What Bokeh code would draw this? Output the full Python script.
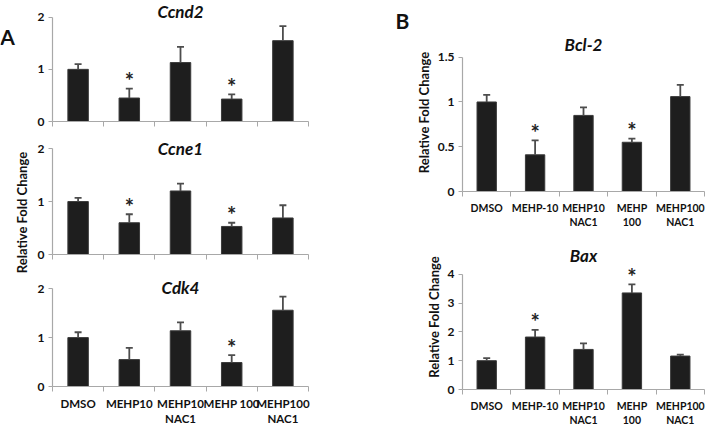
import math
from bokeh.plotting import figure
from bokeh.models import (Range1d, FixedTicker, Whisker, TeeHead, ColumnDataSource,
                          Label, CustomJSTickFormatter)
from bokeh.layouts import row, column
from bokeh.embed import file_html
from bokeh.resources import INLINE
from bokeh.core.properties import value

# ---------------- data ----------------
cats_a = ["DMSO", "MEHP10", "MEHP10\nNAC1", "MEHP 100", "MEHP100\nNAC1"]
cats_b = ["DMSO", "MEHP-10", "MEHP10\nNAC1", "MEHP\n100", "MEHP100\nNAC1"]

ccnd2_mean = [1.00, 0.45, 1.13, 0.43, 1.55]
ccnd2_err = [0.10, 0.18, 0.30, 0.09, 0.28]
ccnd2_sig = [False, True, False, True, False]

ccne1_mean = [1.00, 0.60, 1.20, 0.53, 0.69]
ccne1_err = [0.07, 0.16, 0.14, 0.07, 0.24]
ccne1_sig = [False, True, False, True, False]

cdk4_mean = [1.00, 0.55, 1.14, 0.49, 1.56]
cdk4_err = [0.11, 0.24, 0.17, 0.15, 0.28]
cdk4_sig = [False, False, False, True, False]

bcl2_mean = [1.00, 0.41, 0.85, 0.55, 1.06]
bcl2_err = [0.08, 0.16, 0.09, 0.04, 0.13]
bcl2_sig = [False, True, False, True, False]

bax_mean = [1.00, 1.82, 1.39, 3.35, 1.16]
bax_err = [0.09, 0.25, 0.21, 0.30, 0.05]
bax_sig = [False, True, False, True, False]

yticks_a = [0, 1, 2]
yticks_bcl2 = [0, 0.5, 1, 1.5]
yticks_bax = [0, 1, 2, 3, 4]

YL = "Relative Fold Change"

# ---------------- style ----------------
FONT = "Lato"
AXIS_GRAY = "#a8a8a8"
BAR = "#1e1e1e"
ERR = "#4d4d4d"
TXT = "#111111"
H_TOTAL = 428


def make_chart(title, cats, mean, err, sig, yticks, y_end, width, height,
               b_left, b_right, b_top, b_bottom, show_xlabels, xfs, ylabel=None):
    n = len(cats)
    centers = [i + 0.5 for i in range(n)]
    p = figure(width=width, height=height,
               x_range=Range1d(0, n), y_range=Range1d(0, y_end),
               output_backend="svg", toolbar_location=None,
               min_border_left=b_left, min_border_right=b_right,
               min_border_top=b_top, min_border_bottom=b_bottom)
    p.outline_line_color = None
    p.xgrid.visible = False
    p.ygrid.visible = False
    p.background_fill_color = "white"
    p.border_fill_color = "white"

    src = ColumnDataSource(dict(x=centers, top=mean,
                                upper=[m + e for m, e in zip(mean, err)]))
    p.vbar(x="x", top="top", width=0.4, source=src, fill_color=BAR, line_color="#3a3a3a")
    w = Whisker(source=src, base="x", lower="top", upper="upper", dimension="height",
                line_color=ERR, line_width=1.8, lower_head=None,
                upper_head=TeeHead(size=7, line_color=ERR, line_width=1.8))
    w.level = "glyph"
    p.add_layout(w)

    sx = [c for c, s in zip(centers, sig) if s]
    sy = [m + e for m, e, s in zip(mean, err, sig) if s]
    if sx:
        p.text(x=sx, y=sy, text=["*"] * len(sx), text_align="center",
               text_baseline="alphabetic", y_offset=-8,
               text_font=value(FONT), text_font_style="bold",
               text_font_size="22px", text_color="#222222")

    p.add_layout(Label(x=n / 2, y=y_end, text=title, text_align="center",
                       text_baseline="top", text_font=FONT,
                       text_font_style="bold italic", text_font_size="17px",
                       text_color=TXT))

    # x axis: labels at centres, ticks at category boundaries
    xa = p.xaxis[0]
    xa.ticker = FixedTicker(ticks=centers, minor_ticks=list(range(n + 1)))
    xa.major_tick_out = 0
    xa.major_tick_in = 0
    xa.minor_tick_out = 5
    xa.minor_tick_in = 0
    xa.axis_line_color = AXIS_GRAY
    xa.minor_tick_line_color = AXIS_GRAY
    xa.axis_line_width = 1.2
    if show_xlabels:
        xa.formatter = CustomJSTickFormatter(args=dict(labels=cats),
                                             code="return labels[Math.floor(tick)];")
        xa.major_label_text_font = FONT
        xa.major_label_text_font_style = "bold"
        xa.major_label_text_font_size = xfs
        xa.major_label_text_color = TXT
        xa.major_label_standoff = 5
    else:
        xa.formatter = CustomJSTickFormatter(code="return '';")
        xa.major_label_text_font_size = "0px"
        xa.major_label_standoff = 0

    ya = p.yaxis[0]
    ya.ticker = FixedTicker(ticks=yticks, minor_ticks=[])
    ya.bounds = (yticks[0], yticks[-1])
    ya.formatter = CustomJSTickFormatter(code="return tick.toString();")
    ya.axis_line_color = AXIS_GRAY
    ya.axis_line_width = 1.2
    ya.major_tick_line_color = AXIS_GRAY
    ya.major_tick_out = 4
    ya.major_tick_in = 0
    ya.minor_tick_line_color = None
    ya.major_label_text_font = FONT
    ya.major_label_text_font_style = "bold"
    ya.major_label_text_font_size = "12px"
    ya.major_label_text_color = TXT
    ya.major_label_standoff = 4
    if ylabel:
        ya.axis_label = ylabel
        ya.axis_label_text_font = FONT
        ya.axis_label_text_font_style = "bold"
        ya.axis_label_text_font_size = "13px"
        ya.axis_label_text_color = TXT
        ya.axis_label_standoff = 3
    return p


def make_strip(width, height):
    s = figure(width=width, height=height, x_range=Range1d(0, 1), y_range=Range1d(0, 1),
               output_backend="svg", toolbar_location=None,
               x_axis_location=None, y_axis_location=None,
               min_border_left=0, min_border_right=0, min_border_top=0, min_border_bottom=0)
    s.outline_line_color = None
    s.xgrid.visible = False
    s.ygrid.visible = False
    s.border_fill_color = "white"
    return s


def letter(text, x, y):
    return Label(x=x, y=y, x_units="screen", y_units="screen", text=text,
                 text_align="center", text_baseline="middle", text_font=FONT,
                 text_font_style="bold", text_font_size="21px", text_color=TXT)


# left strip of panel A: panel letter and shared y-axis title
strip_a = make_strip(34, H_TOTAL)
strip_a.add_layout(letter("A", 7, H_TOTAL - 36))
strip_a.add_layout(Label(x=21, y=H_TOTAL - 212, x_units="screen", y_units="screen",
                         text=YL, angle=math.pi / 2, text_align="center",
                         text_baseline="middle", text_font=FONT, text_font_style="bold",
                         text_font_size="13px", text_color=TXT))

a1 = make_chart("Ccnd2", cats_a, ccnd2_mean, ccnd2_err, ccnd2_sig, yticks_a, 2.32,
                316, 137, 16, 42, 0, 16, False, "11.5px")
a2 = make_chart("Ccne1", cats_a, ccne1_mean, ccne1_err, ccne1_sig, yticks_a, 2.21,
                316, 139, 16, 42, 0, 22, False, "11.5px")
a3 = make_chart("Cdk4", cats_a, cdk4_mean, cdk4_err, cdk4_sig, yticks_a, 2.25,
                316, 152, 16, 42, 0, 33, True, "11.5px")

# strip of panel B: panel letter
strip_b = make_strip(62, H_TOTAL)
strip_b.add_layout(letter("B", 52, H_TOTAL - 20))

b1 = make_chart("Bcl-2", cats_b, bcl2_mean, bcl2_err, bcl2_sig, yticks_bcl2, 1.765,
                294, 235, 46, 2, 33, 44, True, "10.5px", YL)
b2 = make_chart("Bax", cats_b, bax_mean, bax_err, bax_sig, yticks_bax, 5.03,
                294, 193, 46, 2, 9, 36, True, "10.5px", YL)

layout = row(strip_a, column(a1, a2, a3), strip_b, column(b1, b2))
open("out.html", "w").write(file_html(layout, INLINE))
